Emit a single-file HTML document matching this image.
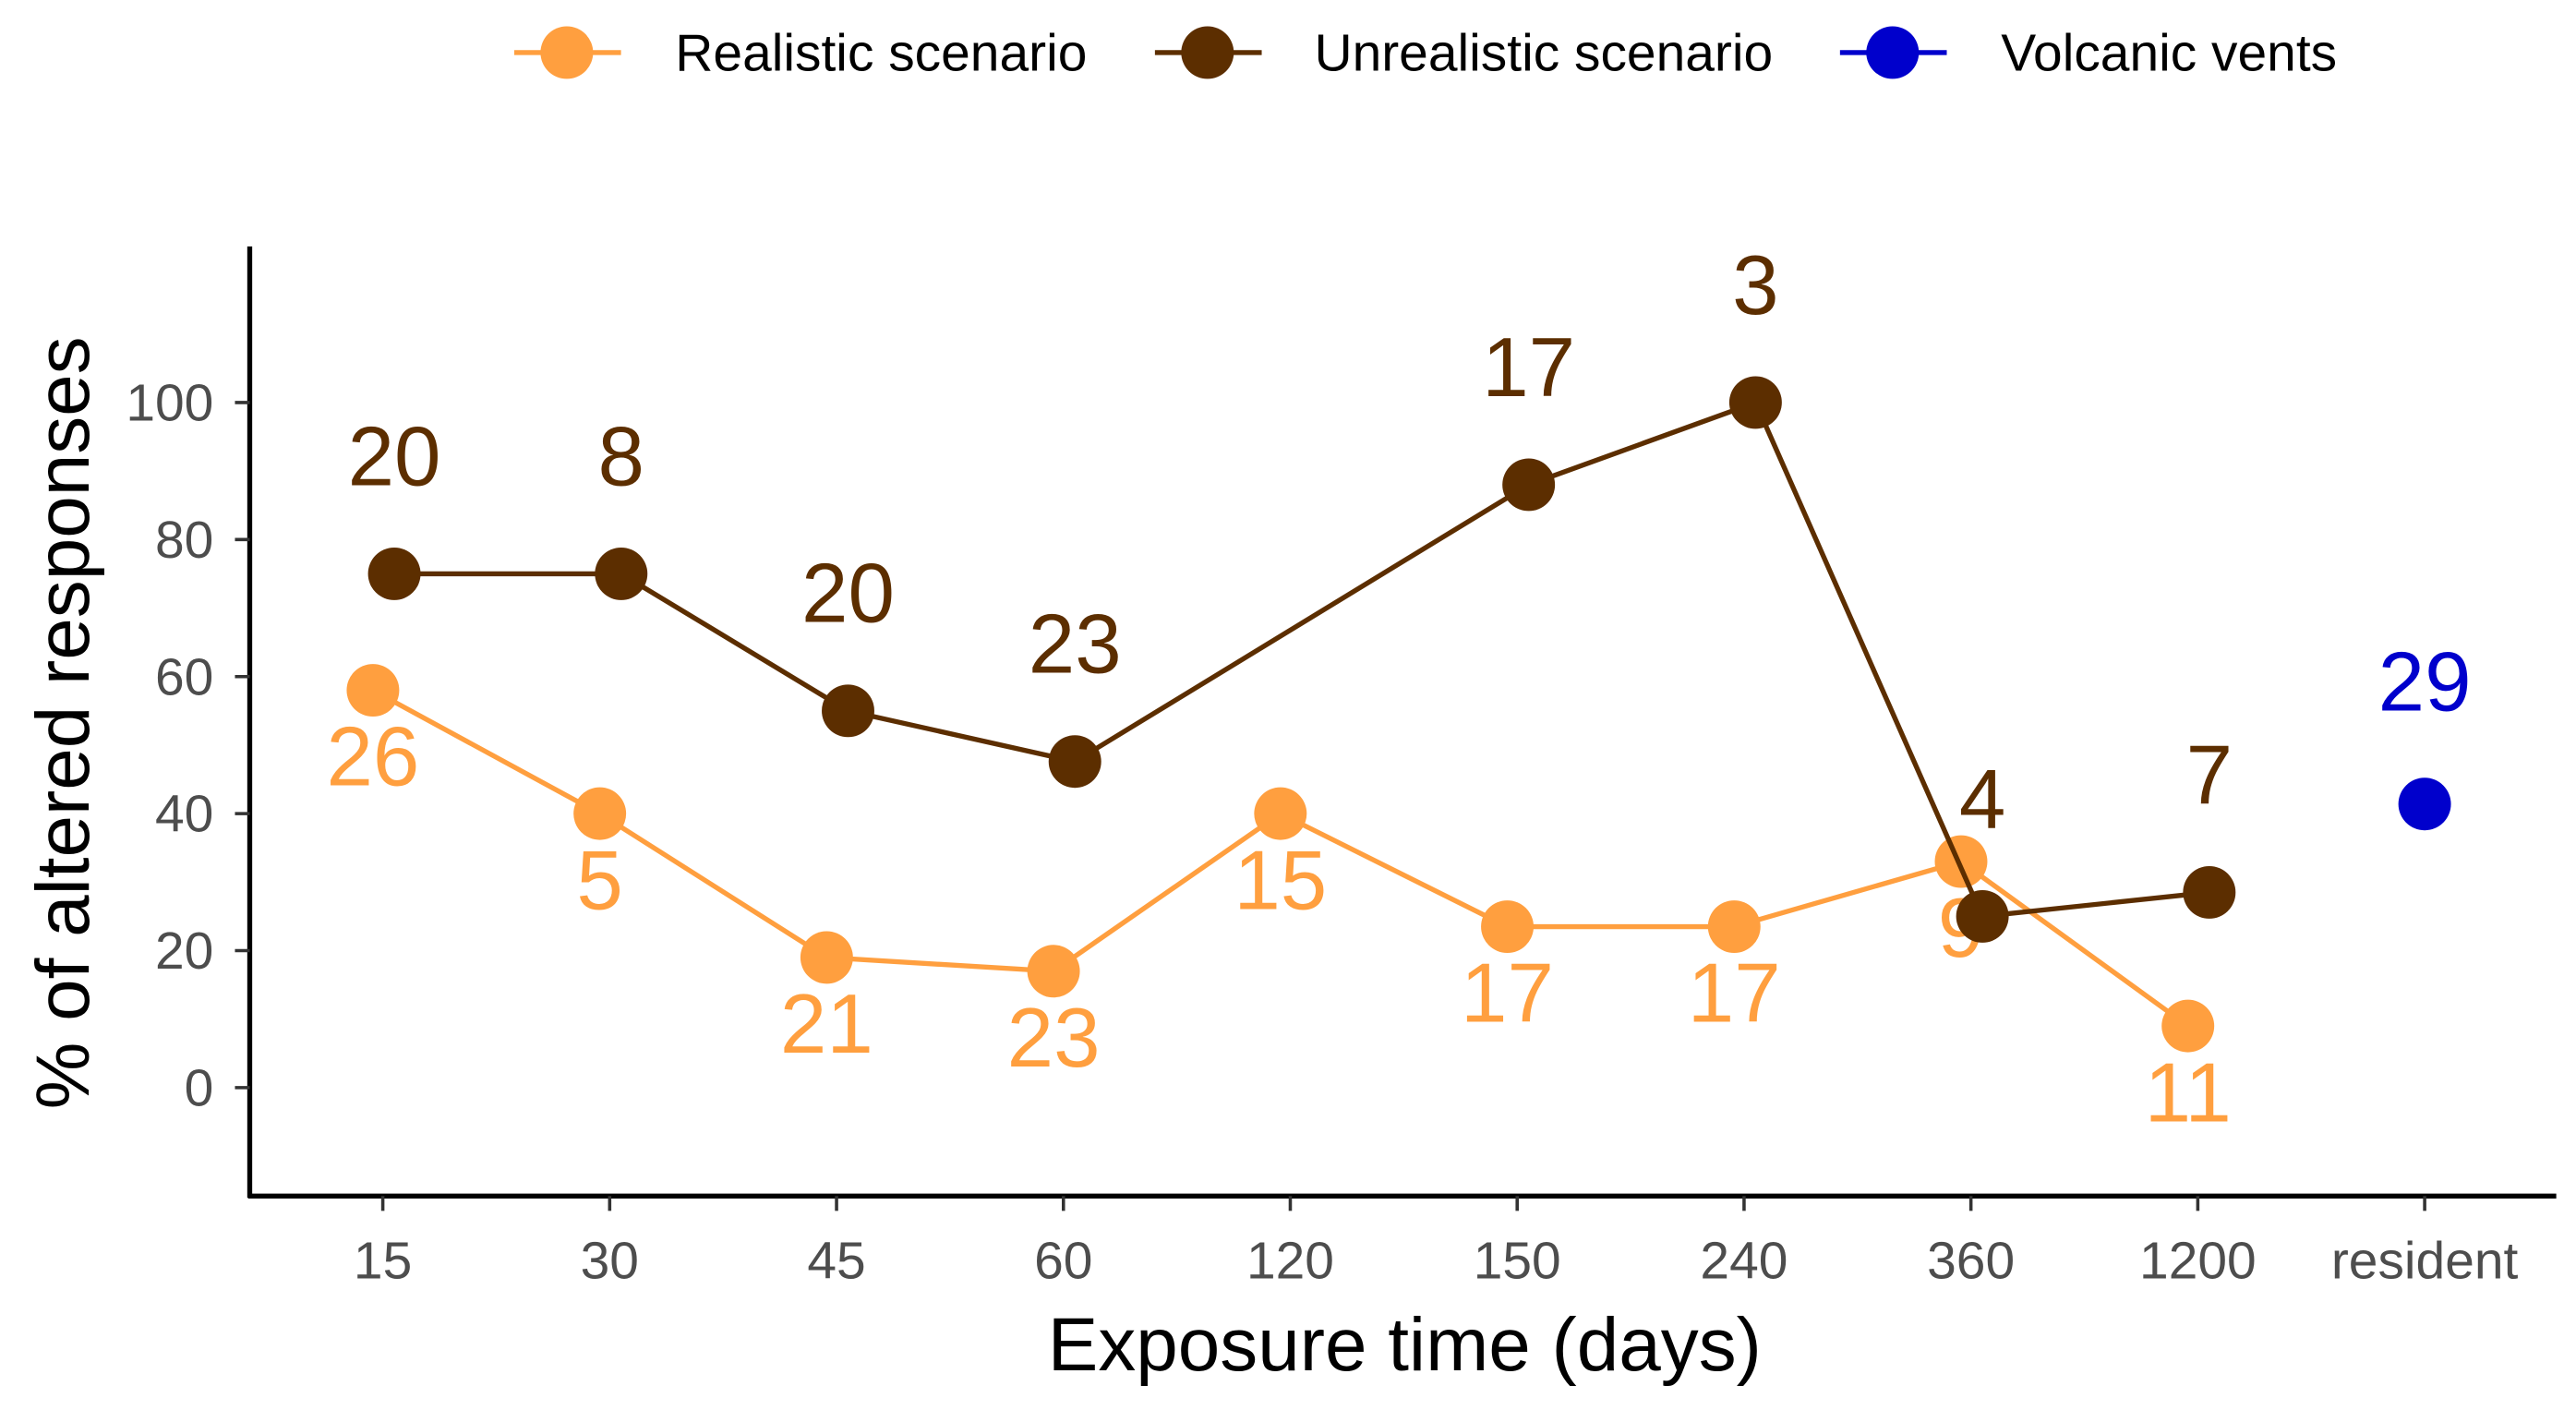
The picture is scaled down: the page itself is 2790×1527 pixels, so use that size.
<!DOCTYPE html>
<html><head><meta charset="utf-8"><style>
html,body{margin:0;padding:0;background:#fff}
svg{display:block}
text{font-family:"Liberation Sans",Arial,sans-serif}
</style></head><body>
<svg id="chart" width="2790" height="1527" viewBox="0 0 1568 858.2" xmlns="http://www.w3.org/2000/svg">
<g id="legend">
 <g>
  <line x1="313" y1="32" x2="378" y2="32" stroke="#FF9F3F" stroke-width="3"/>
  <circle cx="345" cy="32" r="16" fill="#FF9F3F"/>
  <text x="411" y="43" font-size="32" fill="#000">Realistic scenario</text>
 </g>
 <g>
  <line x1="703" y1="32" x2="768" y2="32" stroke="#5C2E00" stroke-width="3"/>
  <circle cx="735" cy="32" r="16" fill="#5C2E00"/>
  <text x="800" y="43" font-size="32" fill="#000">Unrealistic scenario</text>
 </g>
 <g>
  <line x1="1120" y1="32" x2="1185" y2="32" stroke="#0000CC" stroke-width="3"/>
  <circle cx="1152" cy="32" r="16" fill="#0000CC"/>
  <text x="1218" y="43" font-size="32" fill="#000">Volcanic vents</text>
 </g>
</g>
<g id="axes"></g>
<g id="marks"></g>
</svg>
<script>
const categories = ["15","30","45","60","120","150","240","360","1200","resident"];
const yTicks = [0,20,40,60,80,100];
const realisticValues = [58,40,19,17,40,23.5,23.5,33,9];
const realisticN = [26,5,21,23,15,17,17,9,11];
const unrealisticCats = ["15","30","45","60","150","240","360","1200"];
const unrealisticValues = [75,75,55,47.6,88,100,25,28.5];
const unrealisticN = [20,8,20,23,17,3,4,7];
const volcanicCats = ["resident"];
const volcanicValues = [41.4];
const volcanicN = [29];

const NS = "http://www.w3.org/2000/svg";
const xScale = c => 233 + categories.indexOf(c) * 138.1;
const yScale = v => 662 - v * 4.17;
function mk(tag, attrs, parent, txt){
  const e = document.createElementNS(NS, tag);
  for (const k in attrs) e.setAttribute(k, attrs[k]);
  if (txt !== undefined) e.textContent = txt;
  parent.appendChild(e); return e;
}
const axes = document.getElementById('axes');
const marks = document.getElementById('marks');

const yl = mk('line',{x1:152,y1:150,x2:152,y2:729,stroke:'#000','stroke-width':3},axes);


const xl = mk('line',{x1:151,y1:728,x2:1556,y2:728,stroke:'#000','stroke-width':3},axes);


yTicks.forEach(t=>{
  const y = yScale(t);
  mk('line',{x1:143,y1:y,x2:152,y2:y,stroke:'#333','stroke-width':2},axes);
  const tx = mk('text',{x:130,y:y+11,'font-size':32,fill:'#4d4d4d','text-anchor':'end'},axes,String(t));
  
  
});
categories.forEach(c=>{
  const x = xScale(c);
  mk('line',{x1:x,y1:728,x2:x,y2:737,stroke:'#333','stroke-width':2},axes);
  const tx = mk('text',{x:x,y:778,'font-size':32,fill:'#4d4d4d','text-anchor':'middle'},axes,c);
  
  
});
const xt = mk('text',{x:855,y:834,'font-size':46,fill:'#000','text-anchor':'middle'},axes,'Exposure time (days)');


const yt = mk('text',{x:0,y:0,'font-size':46,fill:'#000','text-anchor':'middle',transform:'translate(54,440) rotate(-90)'},axes,'% of altered responses');



function series(cats, vals, ns, color, dx, labelDy, name){
  const pts = cats.map((c,i)=>[xScale(c)+dx, yScale(vals[i])]);
  if (pts.length>1){
    const pl = mk('polyline',{points:pts.map(p=>p.join(',')).join(' '),fill:'none',stroke:color,'stroke-width':3},marks);
    
    
  }
  pts.forEach((p,i)=>{
    const c = mk('circle',{cx:p[0],cy:p[1],r:16,fill:color},marks);
    
    
  });
  pts.forEach((p,i)=>{
    const t = mk('text',{x:p[0],y:p[1]+labelDy,'font-size':51,fill:color,'text-anchor':'middle'},marks,String(ns[i]));
    
    
  });
}
const realCats = categories.slice(0,9);
series(realCats, realisticValues, realisticN, '#FF9F3F', -6, 58, 'realistic');
series(unrealisticCats, unrealisticValues, unrealisticN, '#5C2E00', 7, -54, 'unrealistic');
series(volcanicCats, volcanicValues, volcanicN, '#0000CC', 0, -57, 'volcanic');
</script>
</body></html>
